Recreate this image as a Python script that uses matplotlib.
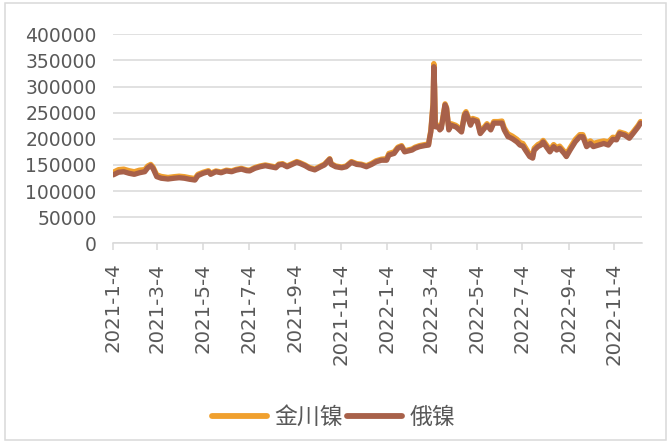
import matplotlib
matplotlib.use("Agg")
import matplotlib.pyplot as plt
import matplotlib.patches as patches
import pandas as pd

dates = [
    "2021-01-04", "2021-01-11", "2021-01-18", "2021-01-25", "2021-02-01", "2021-02-08",
    "2021-02-15", "2021-02-19", "2021-02-23", "2021-02-26", "2021-03-03", "2021-03-09",
    "2021-03-18", "2021-03-26", "2021-04-02", "2021-04-09", "2021-04-16", "2021-04-23",
    "2021-04-27", "2021-05-04", "2021-05-11", "2021-05-14", "2021-05-21", "2021-05-28",
    "2021-06-04", "2021-06-11", "2021-06-17", "2021-06-24", "2021-07-01", "2021-07-05",
    "2021-07-12", "2021-07-19", "2021-07-26", "2021-08-02", "2021-08-09", "2021-08-13",
    "2021-08-18", "2021-08-24", "2021-08-31", "2021-09-06", "2021-09-10", "2021-09-17",
    "2021-09-23", "2021-09-30", "2021-10-08", "2021-10-13", "2021-10-20", "2021-10-22",
    "2021-10-28", "2021-11-05", "2021-11-11", "2021-11-18", "2021-11-25", "2021-12-01",
    "2021-12-08", "2021-12-15", "2021-12-21", "2021-12-28", "2022-01-04", "2022-01-07",
    "2022-01-14", "2022-01-19", "2022-01-24", "2022-01-28", "2022-02-07", "2022-02-11",
    "2022-02-17", "2022-02-24", "2022-03-01", "2022-03-02", "2022-03-04", "2022-03-07",
    "2022-03-08", "2022-03-09", "2022-03-10", "2022-03-14", "2022-03-16", "2022-03-18",
    "2022-03-23", "2022-03-25", "2022-03-28", "2022-03-31", "2022-04-06", "2022-04-08",
    "2022-04-14", "2022-04-18", "2022-04-20", "2022-04-22", "2022-04-26", "2022-04-29",
    "2022-05-05", "2022-05-09", "2022-05-13", "2022-05-18", "2022-05-23", "2022-05-27",
    "2022-06-02", "2022-06-07", "2022-06-10", "2022-06-15", "2022-06-17", "2022-06-21",
    "2022-06-27", "2022-07-01", "2022-07-05", "2022-07-08", "2022-07-14", "2022-07-18",
    "2022-07-20", "2022-07-25", "2022-07-29", "2022-08-01", "2022-08-05", "2022-08-10",
    "2022-08-15", "2022-08-19", "2022-08-23", "2022-08-29", "2022-09-01", "2022-09-06",
    "2022-09-13", "2022-09-19", "2022-09-23", "2022-09-28", "2022-10-03", "2022-10-07",
    "2022-10-14", "2022-10-21", "2022-10-27", "2022-11-02", "2022-11-07", "2022-11-11",
    "2022-11-18", "2022-11-24", "2022-11-29", "2022-12-06", "2022-12-09",
]

russian_nickel = [
    131000, 136000, 137000, 134000, 132000, 135000,
    137000, 144500, 148500, 143500, 127500, 124500,
    123000, 124500, 125500, 124500, 122500, 121000,
    129500, 134000, 137000, 132000, 137000, 135000,
    138500, 137000, 140000, 142000, 139000, 138500,
    143500, 146500, 148500, 146500, 144500, 150000,
    151000, 146500, 151000, 155000, 153000, 148500,
    143500, 140500, 146500, 150000, 161000, 151000,
    146500, 144500, 146500, 155000, 151000, 150000,
    146500, 151000, 156000, 159000, 159000, 169000,
    172000, 182000, 185000, 175000, 178500, 182000,
    185000, 187000, 188000, 198000, 213000, 265000,
    338000, 297000, 223000, 223000, 217000, 220000,
    265000, 258000, 217000, 226000, 223000, 221000,
    213000, 245000, 249000, 242000, 226000, 236000,
    233000, 210000, 217000, 226000, 217000, 230000,
    230000, 230000, 217000, 204000, 203000, 200000,
    194000, 188000, 186000, 179000, 166000, 163000,
    178000, 185000, 188000, 194000, 185000, 175000,
    185000, 178500, 182000, 172000, 166000, 178500,
    194500, 204000, 204000, 185000, 191000, 185000,
    188000, 191000, 188000, 199000, 198000, 210000,
    207000, 201000, 210000, 223000, 230000,
]

jinchuan_nickel = [
    136000, 141000, 142000, 139000, 137000, 140000,
    141000, 148000, 151000, 146000, 131000, 128000,
    126000, 127500, 128500, 127500, 125500, 124000,
    132000, 136000, 139000, 134000, 138500, 136500,
    140000, 138500, 141500, 143500, 140500, 140000,
    145000, 148000, 150000, 148000, 146000, 151500,
    152500, 148000, 152500, 156500, 154500, 150000,
    145000, 142000, 148000, 151500, 162000, 152500,
    148000, 146000, 148000, 156500, 152500, 151500,
    148500, 153000, 158000, 161000, 162000, 172000,
    175000, 184000, 187000, 177000, 180500, 184000,
    187000, 189000, 190000, 200000, 216000, 270000,
    344000, 302000, 226000, 226000, 220000, 223000,
    267000, 260000, 220000, 229000, 226000, 224000,
    216000, 248000, 252000, 245000, 229000, 239000,
    236000, 213000, 220000, 229000, 220000, 233000,
    233000, 234000, 221000, 209000, 208000, 205000,
    199000, 193000, 191000, 184000, 170000, 167000,
    182000, 189000, 192000, 197000, 189000, 179000,
    189000, 183000, 186000, 176000, 170000, 183000,
    199000, 208000, 208000, 190000, 196000, 191000,
    194000, 196000, 194000, 203000, 202000, 213000,
    210000, 205000, 213000, 226000, 233000,
]

tick_dates = ["2021-01-04", "2021-03-04", "2021-05-04", "2021-07-04", "2021-09-04",
              "2021-11-04", "2022-01-04", "2022-03-04", "2022-05-04", "2022-07-04",
              "2022-09-04", "2022-11-04"]
tick_labels = ["2021-1-4", "2021-3-4", "2021-5-4", "2021-7-4", "2021-9-4", "2021-11-4",
               "2022-1-4", "2022-3-4", "2022-5-4", "2022-7-4", "2022-9-4", "2022-11-4"]
y_ticks = [0, 50000, 100000, 150000, 200000, 250000, 300000, 350000, 400000]
series_names = ["金川镍", "俄镍"]

plt.rcParams['font.family'] = ['DejaVu Sans', 'Noto Sans CJK SC']

W, H = 667, 443
fig = plt.figure(figsize=(W / 100, H / 100), dpi=100)
fig.patch.set_facecolor("white")

left_px, right_px, top_px, bottom_px = 113.3, 641.7, 34.3, 243.3
ax = fig.add_axes([left_px / W, 1 - bottom_px / H,
                   (right_px - left_px) / W, (bottom_px - top_px) / H])

x = pd.to_datetime(dates)
orange = "#F0A02E"
brown = "#A8614A"
ax.plot(x, jinchuan_nickel, color=orange, lw=3.8, solid_joinstyle="round",
        solid_capstyle="round", label=series_names[0], zorder=3)
ax.plot(x, russian_nickel, color=brown, lw=3.8, solid_joinstyle="round",
        solid_capstyle="round", label=series_names[1], zorder=4)

ax.set_ylim(0, 400000)
ax.set_yticks(y_ticks)
ax.set_yticklabels([str(v) for v in y_ticks])
ax.set_xlim(pd.Timestamp("2021-01-04"), pd.Timestamp("2022-12-10 14:00"))
ax.set_xticks(pd.to_datetime(tick_dates))
ax.set_xticklabels(tick_labels, rotation=90, va="top", ha="center")

grid_c = "#D9D9D9"
txt_c = "#595959"
ax.grid(axis="y", color=grid_c, lw=1.1, zorder=0)
ax.set_axisbelow(True)
for s in ["top", "right", "left"]:
    ax.spines[s].set_visible(False)
ax.spines["bottom"].set_color(grid_c)
ax.spines["bottom"].set_linewidth(1.1)
ax.tick_params(axis="y", length=0, pad=12, labelsize=13.5, labelcolor=txt_c)
ax.tick_params(axis="x", length=5, width=1.1, color=grid_c, pad=9,
               labelsize=14.2, labelcolor=txt_c)

leg = fig.legend(loc="center", bbox_to_anchor=(0.5, 1 - 417.5 / H), ncol=2,
                 frameon=False, handlelength=2.4, handletextpad=0.3,
                 columnspacing=0.2,
                 prop={"family": ["Noto Sans CJK SC", "DejaVu Sans"], "size": 16.5})
for t in leg.get_texts():
    t.set_color(txt_c)
for l in leg.get_lines():
    l.set_linewidth(4.2)
    l.set_solid_capstyle("round")

border = patches.Rectangle((4.5 / W, 3 / H), (665.5 - 4.5) / W, (438 - 3 + 2) / H,
                           transform=fig.transFigure, fill=False,
                           edgecolor=grid_c, lw=1.1)
fig.patches.append(border)

fig.savefig("out.png", dpi=100, facecolor="white")
